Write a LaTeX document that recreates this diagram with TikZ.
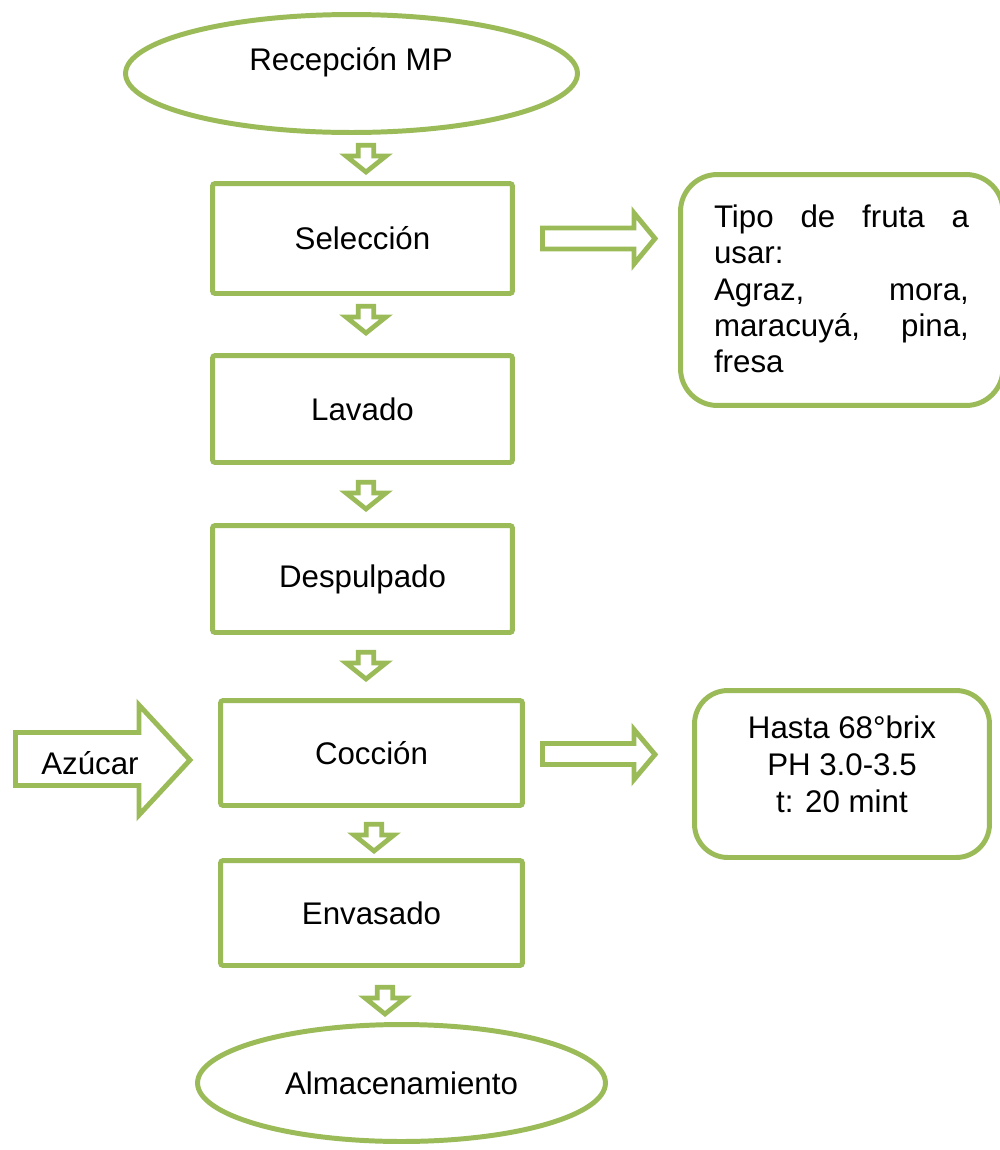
\documentclass[tikz,border=0pt]{standalone}
\usepackage{fontspec}
\setmainfont{Liberation Sans}
\usetikzlibrary{shapes.geometric}
\definecolor{olivegreen}{HTML}{9BBB59}
\newcommand\downarr[2]{%
  \draw[smallarrow] ({#1-7.75},{#2+2.2}) -- ({#1+7.75},{#2+2.2}) -- ({#1+7.75},{#2+13}) -- ({#1+20},{#2+13}) -- (#1,{#2+29}) -- ({#1-20},{#2+13}) -- ({#1-7.75},{#2+13}) -- cycle;}
\newcommand\fullline[1]{\leavevmode\hbox to 5.1cm{#1}}
\begin{document}
\begin{tikzpicture}[x=0.02cm,y=-0.02cm,
  every node/.style={font=\fontsize{17.8}{20.7}\selectfont, inner sep=0pt},
  box/.style={draw=olivegreen, line width=2.83pt, rounded corners=1.5pt},
  oval/.style={draw=olivegreen, line width=2.83pt, ellipse, inner sep=0pt},
  rbox/.style={draw=olivegreen, line width=2.83pt, rounded corners=21pt},
  bigarrow/.style={draw=olivegreen, line width=2.8pt, fill=white, line join=miter},
  smallarrow/.style={draw=olivegreen, line width=2.7pt, fill=white, line join=miter},
]
\useasboundingbox (0,0) rectangle (1000,1150);
\clip (0,0) rectangle (1000,1150);

% ovals
\node[oval, minimum width=9.04cm, minimum height=2.36cm] (rec) at (351.5,73.5) {};
\node (rectxt) at (351,62) {Recepción MP};
\node[oval, minimum width=8.16cm, minimum height=2.34cm] (alm) at (401.5,1083) {Almacenamiento};

% process boxes
\node[box, minimum width=6cm, minimum height=2.2cm] (sel) at (362.5,238.5) {Selección};
\node[box, minimum width=6cm, minimum height=2.14cm] (lav) at (362.5,409) {Lavado};
\node[box, minimum width=6cm, minimum height=2.14cm] (des) at (362.5,579) {Despulpado};
\node[box, minimum width=6.04cm, minimum height=2.1cm] (coc) at (371.5,753) {Cocción};
\node[box, minimum width=6.04cm, minimum height=2.1cm] (env) at (371.5,913) {Envasado};

% side boxes
\node[rbox, minimum width=6.45cm, minimum height=4.62cm] (tipo) at (841.75,290) {};
\node[text width=5.12cm, align=left] (tipotxt) at (842,289) {%
\fullline{Tipo\hfill de\hfill fruta\hfill a}\\
usar:\\
\fullline{Agraz,\hfill mora,}\\
\fullline{maracuyá,\hfill pina,}\\
fresa};
\node[rbox, rounded corners=19pt, minimum width=5.9cm, minimum height=3.34cm] (hasta) at (842,774) {};
\node[align=center, font=\fontsize{17.8}{21}\selectfont] (hastatxt) at (842,764) {Hasta 68°brix\\PH 3.0-3.5\\t: 20 mint};

% block arrows
\draw[bigarrow] (542.5,228) -- (634,228) -- (634,213) -- (655,238.5) -- (634,264) -- (634,249) -- (542.5,249) -- cycle;
\draw[bigarrow] (542.5,743.5) -- (634,743.5) -- (634,729.5) -- (655,754.5) -- (634,779.5) -- (634,764.5) -- (542.5,764.5) -- cycle;
\draw[bigarrow] (15.5,732.5) -- (139,732.5) -- (139,705) -- (190,760) -- (139,815) -- (139,785.5) -- (15.5,785.5) -- cycle;
\node (azu) at (90,763) {Azúcar};

% small down arrows
\downarr{366}{143}
\downarr{366}{304}
\downarr{366}{480}
\downarr{366}{650}
\downarr{374}{822}
\downarr{385}{985}
\end{tikzpicture}
\end{document}
